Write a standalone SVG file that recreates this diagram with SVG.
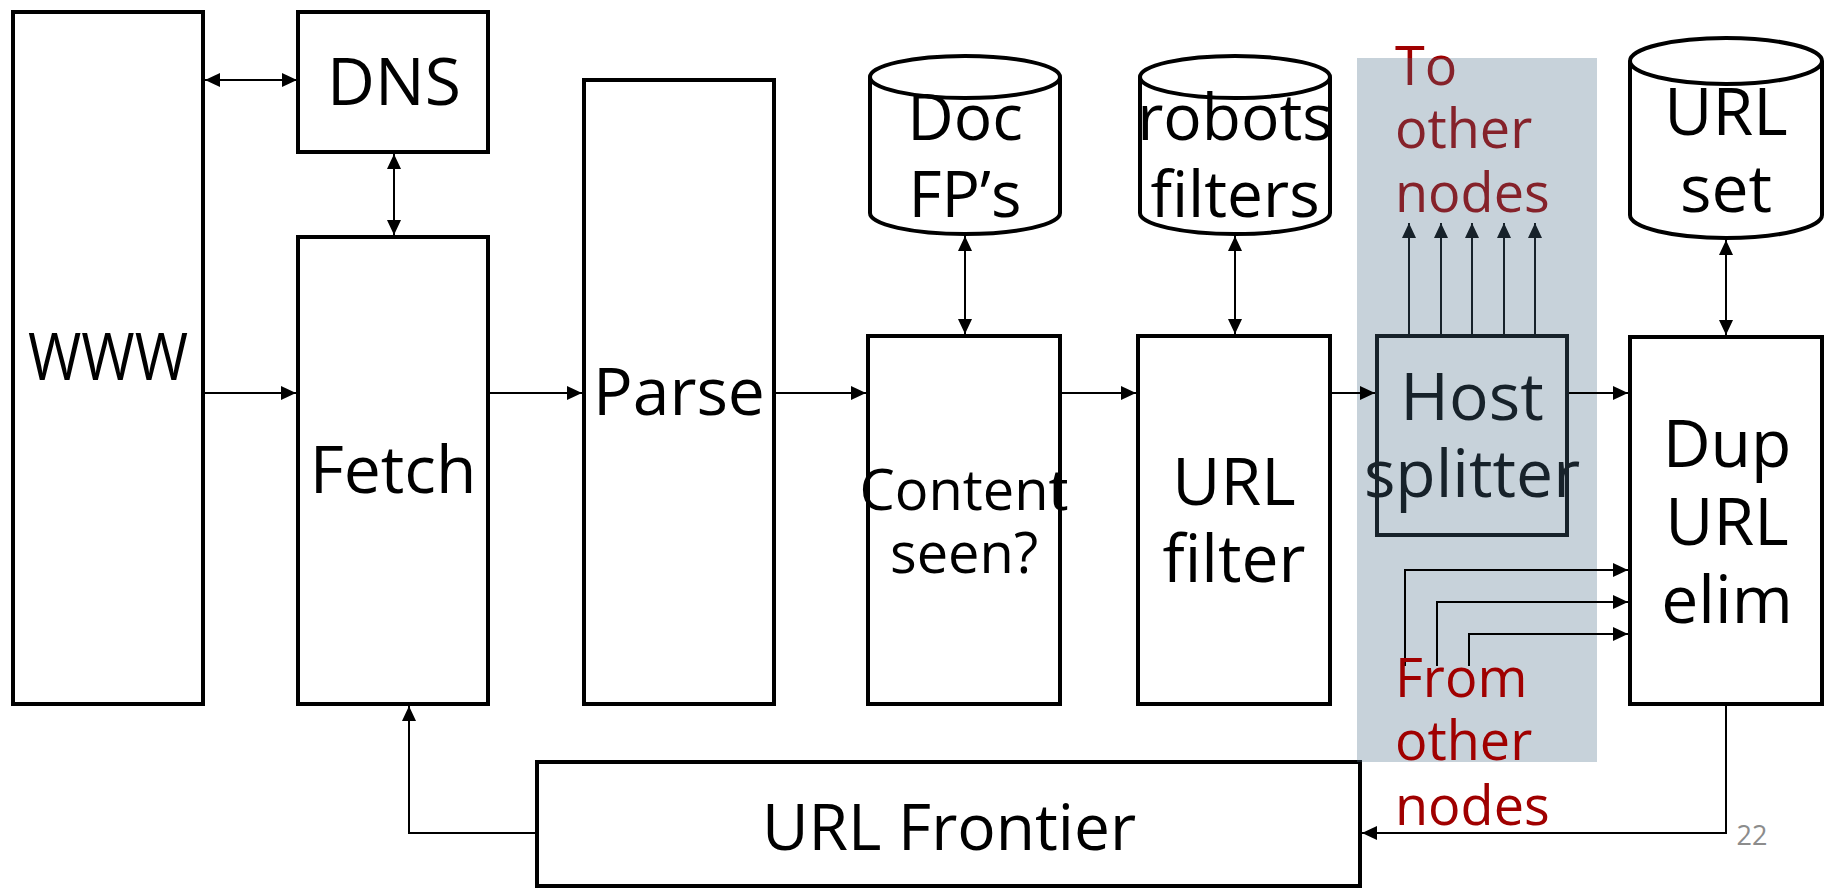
<svg xmlns="http://www.w3.org/2000/svg" width="1828" height="890" viewBox="0 0 1828 890">
<defs>
<style>
.box{fill:#fff;stroke:#000;stroke-width:4}
.lbl{font-family:"Open Sans","Noto Sans","DejaVu Sans",sans-serif;font-size:66px;fill:#000;text-anchor:middle}
.red{font-family:"Open Sans","Noto Sans","DejaVu Sans",sans-serif;font-size:54px;fill:#a00000}
.ln{fill:none;stroke:#000;stroke-width:2}
</style>
<marker id="ah" viewBox="0 0 15 14" refX="15" refY="7" markerWidth="15" markerHeight="14" markerUnits="userSpaceOnUse" orient="auto-start-reverse">
<path d="M0,0 L15,7 L0,14 Z" fill="#000"/>
</marker>
</defs>
<rect width="1828" height="890" fill="#fff"/>

<g id="www"><rect class="box" x="13" y="12" width="190" height="692"/><text class="lbl" x="108" y="380" textLength="160" lengthAdjust="spacingAndGlyphs">WWW</text></g>
<g id="dns"><rect class="box" x="298" y="12" width="190" height="140"/><text class="lbl" x="394" y="105">DNS</text></g>
<g id="fetch"><rect class="box" x="298" y="237" width="190" height="467"/><text class="lbl" x="393" y="493">Fetch</text></g>
<g id="parse"><rect class="box" x="584" y="80" width="190" height="624"/><text class="lbl" x="679" y="415">Parse</text></g>
<g id="docfp"><path class="box" d="M870,77 L870,213 A95,21 0 0 0 1060,213 L1060,77"/><ellipse class="box" cx="965" cy="77" rx="95" ry="21"/><text class="lbl" style="font-size:64px" x="965" y="140">Doc</text><text class="lbl" style="font-size:64px" x="965" y="217">FP’s</text></g>
<g id="content"><rect class="box" x="868" y="336" width="192" height="368"/><text class="lbl" style="font-size:56px" x="964" y="510">Content</text><text class="lbl" style="font-size:56px" x="964" y="573">seen?</text></g>
<g id="robots"><path class="box" d="M1140,77 L1140,213 A95,21 0 0 0 1330,213 L1330,77"/><ellipse class="box" cx="1235" cy="77" rx="95" ry="21"/><text class="lbl" style="font-size:64px" x="1235" y="140">robots</text><text class="lbl" style="font-size:64px" x="1235" y="217">filters</text></g>
<g id="urlfilter"><rect class="box" x="1138" y="336" width="192" height="368"/><text class="lbl" x="1234" y="505">URL</text><text class="lbl" x="1234" y="582">filter</text></g>
<g id="hostsplitter"><rect class="box" x="1377" y="336" width="190" height="199"/><text class="lbl" x="1472" y="420">Host</text><text class="lbl" x="1472" y="497">splitter</text></g>
<g id="toother"><text class="red" x="1395" y="85">To</text><text class="red" x="1395" y="148">other</text><text class="red" x="1395" y="212">nodes</text></g>
<g id="to-arrows">
<path class="ln" marker-end="url(#ah)" d="M1409,334 V223"/>
<path class="ln" marker-end="url(#ah)" d="M1441,334 V223"/>
<path class="ln" marker-end="url(#ah)" d="M1472,334 V223"/>
<path class="ln" marker-end="url(#ah)" d="M1504,334 V223"/>
<path class="ln" marker-end="url(#ah)" d="M1535,334 V223"/>
</g>
<g id="urlset"><path class="box" d="M1630,61 L1630,215 A96,23 0 0 0 1822,215 L1822,61"/><ellipse class="box" cx="1726" cy="61" rx="96" ry="23"/><text class="lbl" x="1726" y="135">URL</text><text class="lbl" x="1726" y="212">set</text></g>
<g id="dup"><rect class="box" x="1630" y="337" width="192" height="367"/><text class="lbl" x="1727" y="467">Dup</text><text class="lbl" x="1727" y="545">URL</text><text class="lbl" x="1727" y="623">elim</text></g>
<g id="frontier"><rect class="box" x="537" y="762" width="823" height="124"/><text class="lbl" style="font-size:64px" x="949" y="850">URL Frontier</text></g>

<rect id="shade" x="1357" y="58" width="240" height="704" fill="#4a6e87" fill-opacity="0.31"/>

<g id="connectors">
<path class="ln" marker-start="url(#ah)" marker-end="url(#ah)" d="M205,80 H297"/>
<path class="ln" marker-start="url(#ah)" marker-end="url(#ah)" d="M394,154 V235"/>
<path class="ln" marker-end="url(#ah)" d="M205,393 H296"/>
<path class="ln" marker-end="url(#ah)" d="M490,393 H582"/>
<path class="ln" marker-end="url(#ah)" d="M776,393 H866"/>
<path class="ln" marker-end="url(#ah)" d="M1062,393 H1136"/>
<path class="ln" marker-end="url(#ah)" d="M1332,393 H1375"/>
<path class="ln" marker-end="url(#ah)" d="M1569,393 H1628"/>
<path class="ln" marker-start="url(#ah)" marker-end="url(#ah)" d="M965,236 V334"/>
<path class="ln" marker-start="url(#ah)" marker-end="url(#ah)" d="M1235,236 V334"/>
<path class="ln" marker-start="url(#ah)" marker-end="url(#ah)" d="M1726,240 V335"/>
<path class="ln" marker-end="url(#ah)" d="M1726,706 V833 H1362"/>
<path class="ln" marker-end="url(#ah)" d="M535,833 H409 V706"/>
<path class="ln" marker-end="url(#ah)" d="M1405,666 V570 H1628"/>
<path class="ln" marker-end="url(#ah)" d="M1437,666 V602 H1628"/>
<path class="ln" marker-end="url(#ah)" d="M1469,666 V634 H1628"/>
</g>
<g id="fromother"><text class="red" x="1395" y="697">From</text><text class="red" x="1395" y="760">other</text><text class="red" x="1395" y="825">nodes</text></g>
<text id="pagenum" x="1752" y="845" font-family="Open Sans, sans-serif" font-size="27" fill="#8c8c8c" text-anchor="middle">22</text>
</svg>
